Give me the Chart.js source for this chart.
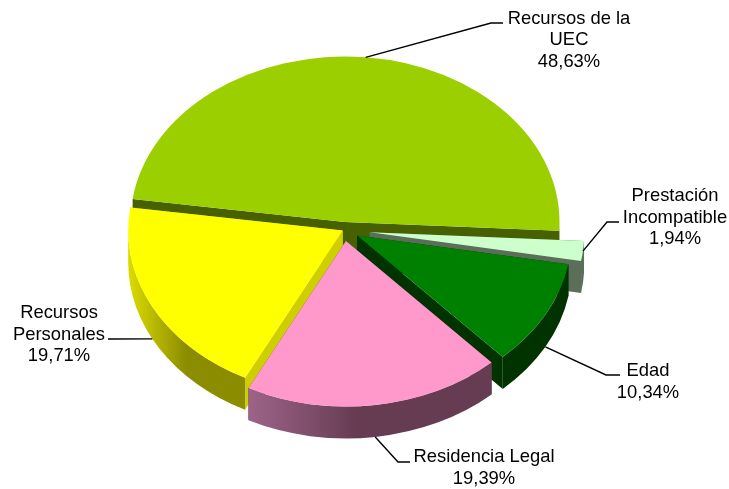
<!DOCTYPE html>
<html lang="es">
<head>
<meta charset="utf-8">
<title>Recursos</title>
<style>html,body{margin:0;padding:0;background:#fff}canvas{display:block}</style>
<script src="https://cdn.jsdelivr.net/npm/chart.js@4/dist/chart.umd.js"></script>
</head>
<body>
<canvas id="c" width="729" height="489"></canvas>
<script>
const categories = ["Recursos de la UEC", "Prestación Incompatible", "Edad", "Residencia Legal", "Recursos Personales"];
const percentValues = [48.63, 1.94, 10.34, 19.39, 19.71];
const labelNameLines = [["Recursos de la", "UEC"], ["Prestación", "Incompatible"], ["Edad"], ["Residencia Legal"], ["Recursos", "Personales"]];

const topColors = ["#9BCF00", "#CCFFCC", "#008000", "#FF99CC", "#FFFF00"];
const faceColors = ["#476100", "#5A6E5A", "#003300", "#66394F", "#CFCF00"];
const wallStops = [["#476100", "#476100"], ["#5A6E5A", "#5A6E5A"], ["#003300", "#003300"], ["#9C6488", "#663C52"], ["#DCDC00", "#8C8C00"]];
const wallMidStop = [0.5, 0.5, 0.5, 0.45, 0.5];

const explode = [10.5, 26, 15, 14.5, 1.5];
const wallOrder = [0, 1, 2, 4, 3];
const squash = 0.771;
const depth = 32;
const startRotation = 278;
const pieRadius = 214.5;

const labelFont = '18.4px "Liberation Sans", Arial, sans-serif';
const labelLineStep = 21.5;
const labelCenterX = [569, 675, 648, 484, 59];
const labelFirstBaseline = [23.5, 201, 376, 462, 318];
const leaderElbowA = [[491, 23], [607, 222], [606, 375], [398, 462], [110, 339]];
const leaderElbowB = [[503, 23], [619, 222], [620, 375], [410, 462], [108, 339]];
const leaderOnWall = [false, false, true, true, true];

function sq(area) { return (area.top + area.bottom) / 2; }

function drawWall(ctx, arc, i, cy) {
  const R = arc.outerRadius, a0 = arc.startAngle, a1 = arc.endAngle;
  const px = a => arc.x + R * Math.cos(a);
  const py = a => cy + (arc.y - cy) * squash + R * squash * Math.sin(a);
  const ax = arc.x, ay = cy + (arc.y - cy) * squash;

  // radial faces, the one further back first
  const faces = [a0, a1].sort((p, q) => Math.sin(p) - Math.sin(q));
  ctx.fillStyle = faceColors[i];
  faces.forEach(a => {
    ctx.beginPath();
    ctx.moveTo(ax, ay);
    ctx.lineTo(px(a), py(a));
    ctx.lineTo(px(a), py(a) + depth);
    ctx.lineTo(ax, ay + depth);
    ctx.closePath();
    ctx.fill();
  });

  // curved outer wall: only the part facing the viewer
  for (let k = -1; k <= 2; k++) {
    const s = Math.max(a0, k * 2 * Math.PI), e = Math.min(a1, k * 2 * Math.PI + Math.PI);
    if (e <= s) continue;
    const xs = [px(s), px(e)];
    const left = Math.min(...xs), right = Math.max(...xs);
    const g = ctx.createLinearGradient(left, 0, right, 0);
    g.addColorStop(0, wallStops[i][0]);
    g.addColorStop(wallMidStop[i], wallStops[i][1]);
    g.addColorStop(1, wallStops[i][1]);
    ctx.fillStyle = g;
    ctx.beginPath();
    ctx.ellipse(ax, ay, R, R * squash, 0, s, e);
    ctx.ellipse(ax, ay + depth, R, R * squash, 0, e, s, true);
    ctx.closePath();
    ctx.fill();
  }
}

const pie3d = {
  id: 'pie3d',
  afterDatasetsUpdate(chart) {
    chart.getDatasetMeta(0).data.forEach((arc, i) => {
      const mid = (arc.startAngle + arc.endAngle) / 2;
      arc.x += Math.cos(mid) * explode[i];
      arc.y += Math.sin(mid) * explode[i];
    });
  },
  beforeDatasetsDraw(chart) {
    const ctx = chart.ctx, cy = sq(chart.chartArea);
    const arcs = chart.getDatasetMeta(0).data;
    ctx.save();
    wallOrder.forEach(i => drawWall(ctx, arcs[i], i, cy));
    ctx.translate(0, cy);
    ctx.scale(1, squash);
    ctx.translate(0, -cy);
  },
  afterDatasetsDraw(chart) {
    const ctx = chart.ctx, cy = sq(chart.chartArea);
    ctx.restore();
    const arcs = chart.getDatasetMeta(0).data;
    ctx.save();
    ctx.strokeStyle = '#000';
    ctx.lineWidth = 1.4;
    arcs.forEach((arc, i) => {
      const mid = (arc.startAngle + arc.endAngle) / 2;
      const sx = arc.x + arc.outerRadius * Math.cos(mid);
      const sy = cy + (arc.y + arc.outerRadius * Math.sin(mid) - cy) * squash + (leaderOnWall[i] ? depth : 0);
      ctx.beginPath();
      ctx.moveTo(sx, sy);
      ctx.lineTo(leaderElbowA[i][0], leaderElbowA[i][1]);
      ctx.lineTo(leaderElbowB[i][0], leaderElbowB[i][1]);
      ctx.stroke();
    });
    ctx.fillStyle = '#000';
    ctx.font = labelFont;
    ctx.textAlign = 'center';
    ctx.textBaseline = 'alphabetic';
    labelNameLines.forEach((lines, i) => {
      const all = lines.concat(percentValues[i].toFixed(2).replace('.', ',') + '%');
      all.forEach((t, n) => ctx.fillText(t, labelCenterX[i], labelFirstBaseline[i] + n * labelLineStep));
    });
    ctx.restore();
  }
};

new Chart(document.getElementById('c'), {
  type: 'pie',
  data: {
    labels: categories,
    datasets: [{ data: percentValues, backgroundColor: topColors, borderWidth: 0, radius: pieRadius }]
  },
  options: {
    responsive: false,
    animation: false,
    rotation: startRotation,
    layout: { padding: { left: 0, right: 41, top: 0, bottom: 29 } },
    plugins: { legend: { display: false }, tooltip: { enabled: false } }
  },
  plugins: [pie3d]
});
</script>
</body>
</html>
